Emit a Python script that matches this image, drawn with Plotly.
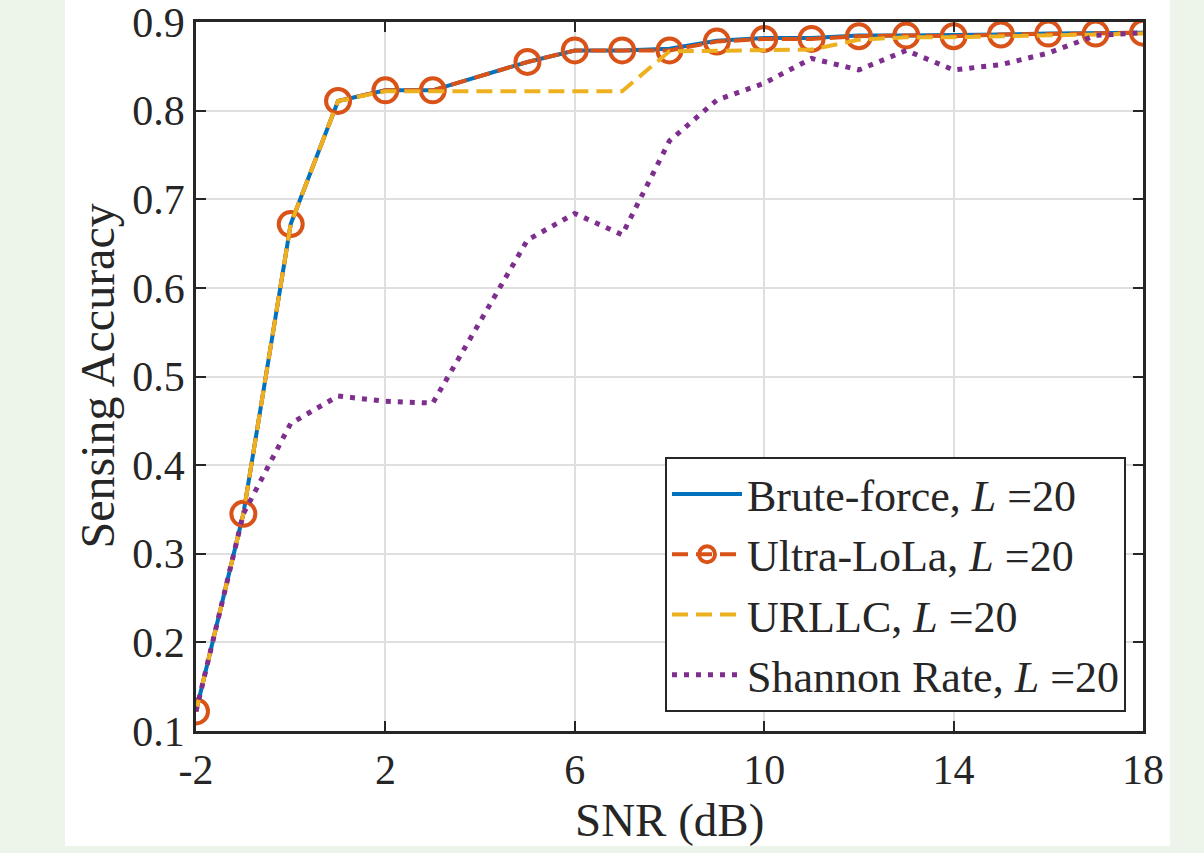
import plotly.graph_objects as go

snr = [-2, -1, 0, 1, 2, 3, 5, 6, 7, 8, 9, 10, 11, 12, 13, 14, 15, 16, 17, 18]
brute_force = [0.122, 0.345, 0.672, 0.811, 0.823, 0.823, 0.855, 0.868, 0.868, 0.870,
               0.879, 0.882, 0.882, 0.885, 0.885, 0.885, 0.886, 0.887, 0.887, 0.888]
ultra_lola = [0.122, 0.345, 0.672, 0.811, 0.823, 0.823, 0.855, 0.868, 0.868, 0.868,
              0.878, 0.881, 0.881, 0.884, 0.885, 0.884, 0.886, 0.887, 0.887, 0.888]
urllc = [0.122, 0.345, 0.672, 0.811, 0.822, 0.822, 0.822, 0.822, 0.822, 0.867,
         0.868, 0.869, 0.869, 0.880, 0.883, 0.883, 0.884, 0.885, 0.886, 0.887]
shannon = [0.122, 0.345, 0.447, 0.478, 0.472, 0.470, 0.654, 0.684, 0.660, 0.766,
           0.812, 0.831, 0.859, 0.846, 0.868, 0.846, 0.852, 0.865, 0.885, 0.888]

x_ticks = [-2, 2, 6, 10, 14, 18]
x_tick_text = ["-2", "2", "6", "10", "14", "18"]
y_ticks = [0.1, 0.2, 0.3, 0.4, 0.5, 0.6, 0.7, 0.8, 0.9]
y_tick_text = ["0.1", "0.2", "0.3", "0.4", "0.5", "0.6", "0.7", "0.8", "0.9"]

names = ["Brute-force, <i>L</i> =20", "Ultra-LoLa, <i>L</i> =20",
         "URLLC, <i>L</i> =20", "Shannon Rate, <i>L</i> =20"]

BLUE = "#0072BD"
ORANGE = "#D95319"
YELLOW = "#EDB120"
PURPLE = "#7E2F8E"
BG = "#EDF4E9"
INK = "#262626"
FONT = "Liberation Serif"

fig = go.Figure()
fig.add_trace(go.Scatter(x=snr, y=brute_force, mode="lines", name=names[0],
                         line=dict(color=BLUE, width=4)))
fig.add_trace(go.Scatter(x=snr, y=ultra_lola, mode="lines+markers", name=names[1],
                         line=dict(color=ORANGE, width=4, dash="16px,8px"),
                         marker=dict(symbol="circle-open", size=24, color=ORANGE,
                                     line=dict(width=4, color=ORANGE))))
fig.add_trace(go.Scatter(x=snr, y=urllc, mode="lines", name=names[2],
                         line=dict(color=YELLOW, width=4, dash="16px,8px")))
fig.add_trace(go.Scatter(x=snr, y=shannon, mode="lines", name=names[3],
                         line=dict(color=PURPLE, width=5, dash="5px,7px")))

L, R, T, B = 196, 1143, 22, 731
W, H = 1204, 853
pw, ph = R - L, B - T

def px(xp):
    return (xp - L) / pw

def py(yp):
    return (B - yp) / ph

fig.update_layout(
    width=W, height=H,
    margin=dict(l=L, r=W - R, t=T, b=H - B, autoexpand=False),
    paper_bgcolor=BG,
    plot_bgcolor="white",
    font=dict(family=FONT, color=INK),
    showlegend=True,
    legend=dict(x=px(1126), y=py(712), xanchor="right", yanchor="bottom",
                bgcolor="white", bordercolor=INK, borderwidth=2,
                itemwidth=70,
                font=dict(size=44, family=FONT, color=INK),
                tracegroupgap=0),
    shapes=[dict(type="rect", xref="paper", yref="paper",
                 x0=px(65), x1=px(1170), y0=py(846), y1=py(0),
                 fillcolor="white", line=dict(width=0), layer="below")],
    annotations=[
        dict(text="SNR (dB)", xref="paper", yref="paper", x=0.5, y=py(820),
             xanchor="center", yanchor="middle", showarrow=False,
             font=dict(size=47, family=FONT, color=INK)),
        dict(text="Sensing Accuracy", xref="paper", yref="paper", x=px(97), y=0.5,
             xanchor="center", yanchor="middle", showarrow=False, textangle=-90,
             font=dict(size=48, family=FONT, color=INK)),
    ],
)
axis_common = dict(ticks="inside", ticklen=10, tickwidth=2, tickcolor=INK,
                   showline=True, linecolor=INK, linewidth=2.5, mirror="ticks",
                   showgrid=True, gridcolor="#DFDFDF", gridwidth=1.5, zeroline=False,
                   ticklabeloverflow="allow", automargin=False,
                   tickfont=dict(size=42, family=FONT, color=INK))
fig.update_xaxes(range=[-2.0001, 18.0001], tickvals=x_ticks, ticktext=x_tick_text,
                 **axis_common)
fig.update_yaxes(range=[0.0999, 0.9001], tickvals=y_ticks, ticktext=y_tick_text,
                 **axis_common)

fig.write_html("out.html",
               config={"displayModeBar": False},
               post_script="document.body.style.margin='0';"
                           "document.body.style.background='%s';" % BG)
